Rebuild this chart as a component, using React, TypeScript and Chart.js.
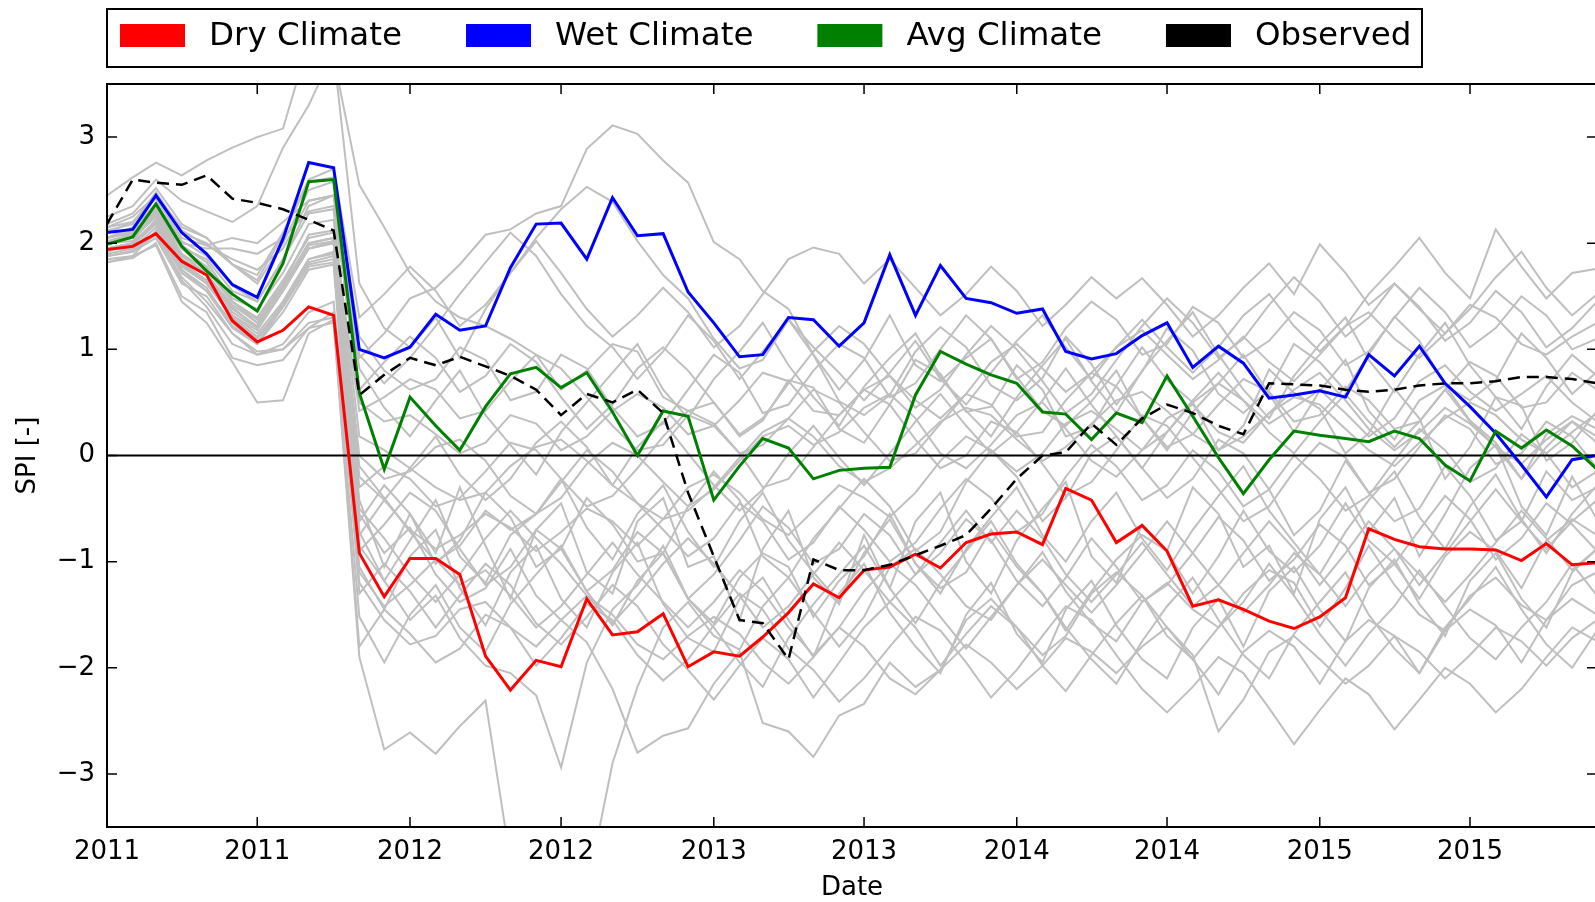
import React, { useEffect, useRef } from "react";
import { Chart, registerables } from "chart.js";

Chart.register(...registerables);

const FONT = "'DejaVu Sans', sans-serif";

// ---------- categories / ticks ----------
const startYear = 2011;
const monthCount = 60; // Jan 2011 .. Dec 2015 (monthly)
const tickDates = [
  "2011-01-01", "2011-07-01", "2012-01-01", "2012-07-01", "2013-01-01",
  "2013-07-01", "2014-01-01", "2014-07-01", "2015-01-01", "2015-07-01",
];
const tickLabels = ["2011", "2011", "2012", "2012", "2013", "2013", "2014", "2014", "2015", "2015"];
const yTicks = [-3, -2, -1, 0, 1, 2, 3];
const xTitle = "Date";
const yTitle = "SPI [-]";

// ---------- highlighted series ----------
const dryClimate = [
  1.94, 1.97, 2.09, 1.83, 1.70, 1.27, 1.07, 1.18, 1.40, 1.32,
  -0.92, -1.33, -0.97, -0.97, -1.12, -1.89, -2.21, -1.93, -1.99, -1.35,
  -1.69, -1.66, -1.49, -1.99, -1.85, -1.89, -1.71, -1.48, -1.21, -1.34,
  -1.08, -1.05, -0.93, -1.06, -0.82, -0.74, -0.72, -0.84, -0.31, -0.42,
  -0.82, -0.66, -0.90, -1.42, -1.36, -1.45, -1.56, -1.63, -1.52, -1.34,
  -0.69, -0.79, -0.86, -0.88, -0.88, -0.89, -0.99, -0.83, -1.03, -1.01,
];
const wetClimate = [
  2.10, 2.13, 2.45, 2.10, 1.90, 1.61, 1.49, 2.04, 2.76, 2.71,
  1.00, 0.92, 1.02, 1.33, 1.18, 1.22, 1.77, 2.18, 2.19, 1.85,
  2.43, 2.07, 2.09, 1.54, 1.25, 0.93, 0.95, 1.30, 1.28, 1.03,
  1.25, 1.89, 1.32, 1.79, 1.48, 1.44, 1.34, 1.38, 0.98, 0.91,
  0.96, 1.13, 1.25, 0.83, 1.03, 0.87, 0.54, 0.57, 0.61, 0.55,
  0.95, 0.75, 1.03, 0.68, 0.46, 0.21, -0.09, -0.39, -0.04, 0.00,
];
const avgClimate = [
  1.99, 2.06, 2.37, 1.97, 1.74, 1.52, 1.36, 1.81, 2.58, 2.60,
  0.59, -0.13, 0.55, 0.28, 0.05, 0.46, 0.77, 0.83, 0.64, 0.78,
  0.41, 0.00, 0.42, 0.37, -0.42, -0.10, 0.16, 0.07, -0.22, -0.14,
  -0.12, -0.11, 0.57, 0.98, 0.86, 0.76, 0.68, 0.41, 0.39, 0.15,
  0.40, 0.31, 0.75, 0.37, -0.02, -0.36, -0.04, 0.23, 0.19, 0.16,
  0.13, 0.23, 0.16, -0.09, -0.24, 0.23, 0.07, 0.24, 0.09, -0.13,
];
const observed = [
  2.18, 2.60, 2.57, 2.55, 2.64, 2.42, 2.38, 2.32, 2.22, 2.12,
  0.57, 0.76, 0.92, 0.85, 0.93, 0.84, 0.75, 0.62, 0.38, 0.58,
  0.50, 0.62, 0.40, -0.35, -0.95, -1.55, -1.58, -1.92, -0.98, -1.08,
  -1.08, -1.03, -0.94, -0.85, -0.75, -0.50, -0.22, 0.00, 0.03, 0.30,
  0.10, 0.35, 0.48, 0.40, 0.28, 0.20, 0.68, 0.67, 0.66, 0.62,
  0.60, 0.62, 0.66, 0.68, 0.68, 0.70, 0.74, 0.74, 0.72, 0.68,
];

// ---------- ensemble members (grey) ----------
const member01 = [2.45,2.62,2.76,2.64,2.78,2.90,3.00,3.08,3.90,3.75, 2.55,2.15,1.72,1.45,1.30,1.22,1.10,0.95,0.62,0.80, 1.05,0.98,0.55,0.42,0.50,0.18,0.33,0.71,0.64,0.25, 0.12,0.48,0.90,0.77,0.41,0.46,0.85,0.62,0.18,0.27, 0.66,1.02,0.71,0.50,0.05,0.28,0.81,0.59,0.44,0.02, 0.21,0.63,0.35,-0.22,0.08,0.55,0.47,-0.05,0.12,0.42];
const member02 = [2.25,2.35,2.60,2.40,2.30,2.20,2.35,2.90,3.30,3.80, 1.62,1.20,1.02,1.30,0.92,1.38,1.72,2.05,2.32,2.53, 2.39,2.02,1.70,1.48,1.10,0.82,0.90,1.28,0.95,0.51, 0.38,0.57,0.98,1.21,1.02,0.66,0.52,0.73,1.12,0.86, 0.48,0.79,1.20,0.99,0.58,0.40,0.62,1.05,0.88,0.61, 0.95,1.31,1.08,0.66,0.52,0.71,1.15,0.92,0.58,0.79];
const member03 = [2.15,2.20,2.45,2.10,2.00,1.80,1.62,2.00,2.50,2.58, 0.92,1.15,1.48,1.58,1.80,2.08,2.13,2.28,2.35,2.89, 3.11,3.03,2.78,2.57,2.01,1.85,1.55,1.38,0.95,0.62, 0.90,1.32,0.85,0.70,0.92,1.10,0.74,0.42,0.28,0.51, 0.80,0.35,0.05,0.41,0.68,0.95,0.58,0.22,0.61,0.90, 0.42,0.15,0.52,0.66,0.33,0.12,-0.22,0.20,0.37,0.25];
const member04 = [1.88,1.92,2.05,1.62,1.50,1.15,0.95,1.00,1.20,1.25, -1.90,-2.77,-2.61,-2.81,-2.55,-2.31,-3.82,-4.50,-4.30,-4.10, -2.90,-2.18,-1.62,-1.38,-1.70,-1.83,-1.42,-1.15,-1.48,-1.80, -1.52,-1.05,-0.88,-1.12,-1.42,-1.55,-1.22,-0.91,-1.28,-1.58, -1.75,-1.38,-1.20,-1.45,-1.62,-1.30,-1.08,-1.20,-1.61,-1.25, -0.85,-1.22,-1.50,-1.65,-1.32,-1.15,-1.41,-1.55,-1.22,-1.10];
const member05 = [1.82,1.88,2.12,1.72,1.55,1.20,1.05,1.40,1.78,1.82, -0.85,-1.18,-1.55,-1.32,-1.72,-1.98,-2.05,-2.26,-2.94,-1.95, -1.45,-1.22,-0.85,-1.35,-1.58,-1.15,-0.92,-1.05,-1.52,-1.18, -0.95,-0.55,-1.02,-1.25,-1.10,-0.70,-1.05,-1.30,-1.65,-1.28, -0.98,-0.75,-0.90,-1.30,-0.95,-0.52,-0.90,-1.10,-0.85,-0.45, -0.80,-1.02,-1.35,-0.95,-0.72,-0.90,-1.25,-0.80,-0.60,-0.75];
const member06 = [1.92,2.00,2.22,1.82,1.65,1.32,1.18,1.55,1.95,2.02, -0.55,-0.92,-0.68,-1.12,-1.38,-1.25,-0.88,-1.32,-1.55,-1.76, -2.20,-2.80,-2.64,-2.57,-2.15,-1.85,-2.52,-2.60,-2.84,-2.45, -2.34,-1.95,-2.18,-2.02,-1.55,-1.35,-1.62,-1.88,-1.70,-1.30, -1.10,-1.32,-1.70,-1.92,-2.25,-1.85,-1.65,-1.80,-2.15,-1.75, -1.55,-1.70,-2.05,-1.65,-1.45,-1.60,-1.95,-1.55,-1.35,-1.50];
const member07 = [2.02,2.08,2.32,1.98,1.82,1.48,1.38,1.72,2.18,2.22, 0.18,0.05,-0.12,-0.30,-0.42,-0.35,-0.10,0.08,0.15,-0.05, -0.28,-0.45,-0.60,-0.52,-0.30,-0.02,0.22,0.35,0.18,-0.10, -0.25,-0.12,0.10,0.32,0.45,0.38,0.15,-0.05,0.08,0.30, 0.52,0.60,0.42,0.20,0.05,0.18,0.40,0.55,0.48,0.25, 0.05,-0.10,0.12,0.35,0.50,0.38,0.15,0.02,0.22,0.40];
const member08 = [1.95,1.98,2.18,1.75,1.58,1.22,1.05,1.45,1.85,1.92, -0.42,-1.05,-0.55,-0.92,-0.30,-0.85,-1.35,-0.70,-0.45,-1.10, -1.30,-0.62,-0.40,-1.05,-0.95,-1.55,-0.88,-0.52,-1.15,-1.40, -0.75,-1.25,-0.62,-0.35,-1.00,-1.30,-0.80,-0.50,-0.25,-0.95, -1.20,-0.65,-0.90,-0.30,-0.55,-1.05,-0.85,-1.30,-0.60,-0.30, -0.72,-0.40,-0.95,-0.55,-0.12,0.10,-0.48,-0.75,-0.20,-0.60];
const member09 = [2.05,2.12,2.38,2.02,1.88,1.60,1.45,1.85,2.28,2.32, -0.20,-0.42,-0.70,-0.88,-0.75,-0.55,-0.68,-0.90,-0.72,-0.50, -0.62,-0.85,-0.60,-0.30,-0.18,-0.35,-0.60,-0.75,-0.52,-0.28, -0.40,-0.58,-0.35,-0.05,0.18,0.05,-0.15,0.02,0.30,0.42, 0.25,0.05,0.22,0.50,0.68,0.52,0.30,0.45,0.62,0.40, 0.18,0.35,0.70,0.85,0.60,0.42,0.58,0.75,0.50,0.32];
const member10 = [1.88,1.92,2.10,1.65,1.40,1.05,0.95,1.05,1.35,1.45, -1.05,-1.45,-0.95,-0.70,-1.25,-1.60,-1.10,-0.85,-1.35,-1.62, -1.10,-0.82,-1.40,-1.72,-1.85,-1.35,-1.15,-1.55,-1.90,-1.30, -1.02,-1.48,-1.80,-2.05,-1.50,-1.20,-1.68,-1.95,-1.45,-1.18, -1.60,-1.92,-2.10,-1.62,-1.35,-1.80,-1.28,-1.05,-1.45,-1.75, -1.25,-0.98,-1.40,-1.70,-1.18,-0.92,-1.35,-1.62,-1.10,-0.88];
const member11 = [2.12,2.18,2.48,2.12,1.98,1.85,1.75,1.95,2.40,2.45, 0.50,0.32,0.38,0.20,0.02,0.12,0.38,0.30,0.05,0.18, 0.42,0.58,0.45,0.20,0.28,0.52,0.78,0.70,0.42,0.38, 0.62,0.75,0.52,0.35,0.58,0.88,1.05,0.82,0.60,0.78, 1.02,1.18,0.95,0.72,0.90,1.12,0.88,0.70,0.95,1.22, 1.35,1.10,0.92,1.15,1.42,1.30,1.05,0.95,1.12,1.25];
const member12 = [2.00,2.02,2.28,1.88,1.72,1.38,1.22,1.58,1.98,2.02, -0.62,-0.28,-0.55,-1.02,-0.80,-0.35,-0.58,-1.05,-0.88,-0.40, -0.65,-1.00,-0.92,-0.48,-0.15,-0.42,-0.95,-1.15,-0.78,-0.50, -0.22,-0.48,-0.90,-0.72,-0.25,0.05,-0.20,-0.62,-0.40,0.02, 0.18,-0.12,-0.40,-0.22,0.15,0.02,-0.32,-0.75,-0.52,-0.05, -0.35,-0.62,-0.50,-0.10,-0.38,-0.80,-0.62,-0.15,-0.42,-0.30];
const member13 = [1.82,1.86,2.00,1.50,1.35,0.92,0.85,0.90,1.20,1.35, -1.20,-1.55,-1.78,-1.70,-1.45,-1.38,-1.62,-1.80,-1.55,-1.32, -1.50,-1.78,-1.92,-1.70,-1.52,-1.68,-1.95,-2.15,-1.90,-1.62, -1.80,-2.10,-2.25,-2.02,-1.78,-1.95,-2.20,-1.98,-1.72,-1.85, -2.05,-1.80,-1.62,-1.88,-2.60,-2.30,-1.85,-1.70,-1.92,-2.15, -1.98,-1.70,-1.85,-2.10,-1.88,-1.62,-1.75,-1.98,-1.72,-1.55];
const member14 = [2.18,2.28,2.52,2.18,2.05,1.80,1.65,2.08,2.58,2.62, 1.12,0.80,0.62,0.72,1.02,0.90,0.52,0.60,0.95,0.82, 0.45,0.18,0.30,0.62,0.95,0.78,0.40,0.48,0.80,1.05, 0.92,0.55,0.68,1.00,1.32,1.10,0.72,0.88,1.20,1.45, 1.28,0.95,1.05,1.40,1.25,0.92,1.08,1.35,1.18,0.85, 0.98,1.30,1.58,1.35,1.02,1.20,1.50,1.32,1.00,1.10];
const member15 = [1.95,2.00,2.20,1.80,1.62,1.30,1.12,1.42,1.82,1.88, -0.72,-1.18,-0.80,-0.42,-0.95,-1.20,-0.75,-0.55,-0.22,-0.68, -0.98,-0.55,-0.28,-0.72,-1.05,-0.62,-0.35,-0.80,-1.10,-1.38, -0.92,-0.60,-1.02,-1.30,-0.88,-0.58,-0.30,-0.75,-1.00,-0.62, -0.35,-0.78,-1.08,-0.70,-0.38,-0.10,-0.52,-0.82,-1.12,-0.72, -0.42,-0.15,-0.58,-0.88,-0.48,-0.18,-0.60,-0.92,-0.55,-0.28];
const member16 = [2.05,2.10,2.32,1.95,1.78,1.45,1.28,1.62,2.08,2.12, 0.00,-0.22,-0.15,0.08,0.15,-0.05,-0.38,-0.55,-0.40,-0.08, 0.12,0.00,-0.25,-0.48,-0.32,-0.05,0.18,0.28,0.10,0.22, 0.45,0.58,0.35,0.02,-0.12,0.10,0.38,0.50,0.25,-0.05, -0.20,0.05,0.35,0.48,0.22,0.12,0.40,0.62,0.78,0.52, 0.25,0.05,0.22,0.45,0.30,0.08,-0.08,0.15,0.32,0.18];
const member17 = [1.88,1.93,2.08,1.68,1.45,1.15,0.98,1.00,1.25,1.30, -1.52,-1.95,-1.50,-1.22,-1.62,-1.85,-1.40,-1.12,-0.85,-1.28, -1.60,-1.18,-0.92,-1.35,-1.62,-1.95,-2.18,-1.72,-1.40,-1.12, -0.85,-1.25,-1.58,-1.20,-0.90,-0.62,-1.02,-1.30,-1.62,-1.92, -2.15,-1.75,-1.42,-1.15,-1.55,-1.88,-2.10,-1.68,-1.38,-1.10, -1.50,-1.82,-2.05,-1.62,-1.35,-1.05,-1.45,-1.78,-2.00,-1.65];
const member18 = [2.00,2.05,2.30,1.90,1.75,1.45,1.30,1.65,2.05,2.10, 0.42,0.55,0.72,0.62,0.35,0.42,0.70,0.95,0.82,0.55, 0.28,0.05,0.10,0.38,0.28,0.02,0.10,0.35,0.62,0.50, 0.22,-0.05,0.02,0.30,0.58,0.48,0.18,0.22,0.52,0.78, 0.65,0.35,0.08,0.20,0.48,0.72,0.60,0.32,0.38,0.65, 0.52,0.25,0.32,0.62,0.88,0.75,0.45,0.50,0.78,0.62];
const member19 = [1.95,1.95,2.15,1.78,1.62,1.32,1.15,1.45,1.85,1.90, -0.90,-0.65,-0.35,-0.52,-0.88,-1.22,-1.05,-0.70,-0.88,-1.28, -1.08,-0.72,-0.92,-1.35,-1.12,-0.80,-0.48,-0.68,-1.02,-0.88, -0.55,-0.75,-1.12,-0.92,-0.60,-0.80,-1.18,-1.42,-1.15,-0.78, -1.05,-1.38,-1.22,-0.92,-0.58,-0.80,-1.18,-0.98,-0.65,-0.85, -1.22,-1.02,-0.70,-0.38,-0.60,-0.98,-0.78,-0.45,-0.65,-0.90];
const member20 = [2.10,2.20,2.42,2.05,1.98,2.05,2.00,2.20,2.40,2.45, 0.82,0.45,0.18,0.52,0.80,0.38,0.10,-0.18,0.22,0.50, 0.78,1.05,0.62,0.35,0.72,0.98,1.25,0.85,0.55,0.28, 0.65,0.92,1.15,0.75,0.42,0.18,0.55,0.85,1.10,0.70, 0.40,0.80,1.08,1.35,0.95,0.62,0.35,0.75,1.05,1.30, 0.90,0.60,0.95,1.25,0.85,0.55,0.25,0.65,0.95,0.75];
const member21 = [1.85,1.88,1.98,1.45,1.25,0.88,0.50,0.52,1.15,1.28, -1.80,-1.45,-1.68,-1.95,-1.82,-1.50,-1.62,-1.98,-1.72,-1.40, -1.55,-1.88,-2.12,-1.92,-1.60,-1.30,-1.45,-1.82,-2.02,-2.32, -2.10,-1.80,-1.52,-1.65,-1.95,-2.28,-2.02,-1.70,-1.42,-1.55, -1.88,-2.20,-2.42,-2.18,-1.90,-2.05,-2.38,-2.72,-2.40,-2.10, -2.25,-2.58,-2.30,-2.00,-2.15,-2.42,-2.20,-1.90,-1.62,-1.75];
const member22 = [2.00,2.05,2.25,1.90,1.70,1.40,1.20,1.55,1.95,2.00, -0.30,-0.10,-0.22,-0.48,-0.40,-0.15,0.12,0.05,-0.22,-0.48, -0.38,-0.12,0.18,0.42,0.30,0.02,-0.30,-0.22,0.08,0.38, 0.62,0.48,0.15,-0.12,0.00,0.32,0.22,-0.08,-0.38,-0.25, 0.05,0.38,0.28,-0.02,-0.32,-0.62,-0.48,-0.15,0.12,-0.02, -0.35,-0.22,0.08,0.38,0.25,-0.08,0.02,0.32,0.18,-0.12];
const member23 = [1.95,2.00,2.20,1.85,1.70,1.42,1.25,1.60,2.00,2.05, -0.10,-0.40,-0.72,-1.00,-0.85,-0.52,-0.70,-0.55,-0.25,0.05, -0.15,-0.45,-0.70,-0.95,-0.78,-0.45,-0.62,-0.98,-0.82,-0.48, -0.70,-1.00,-0.82,-0.50,-0.22,-0.40,-0.72,-0.55,-0.20,0.10, -0.10,-0.42,-0.28,0.05,-0.15,-0.48,-0.32,0.00,-0.22,-0.52, -0.38,-0.05,0.25,0.05,-0.25,-0.12,0.20,0.02,-0.30,-0.15];
const member24 = [2.05,2.15,2.35,2.00,1.95,1.95,1.90,2.05,2.30,2.35, 0.62,0.88,1.12,0.92,0.60,0.75,1.05,0.88,0.55,0.25, 0.48,0.82,1.02,0.80,0.50,0.20,0.35,0.68,0.98,1.22, 1.05,0.75,0.45,0.62,0.95,1.22,1.00,0.70,0.40,0.58, 0.90,1.22,1.48,1.25,0.92,1.10,1.42,1.68,1.45,1.12, 1.30,1.62,1.40,1.08,1.25,1.55,1.35,1.02,1.20,1.45];
const member25 = [2.15,2.25,2.45,2.15,2.05,1.80,1.70,2.10,2.60,2.70, 1.30,1.52,1.78,1.55,1.22,1.42,1.72,2.02,1.72,1.38, 1.12,1.32,1.58,1.35,1.02,1.22,1.52,1.85,1.96,1.90, 1.62,1.85,1.58,1.32,1.52,1.78,1.55,1.22,1.42,1.68, 1.48,1.67,1.42,1.12,1.32,1.58,1.81,1.52,1.99,1.72, 1.42,1.62,1.38,1.15,1.38,1.68,1.92,1.58,1.32,1.52];
const member26 = [2.05,2.10,2.30,1.95,1.85,1.55,1.45,1.85,2.35,2.45, 0.95,0.68,0.92,1.22,1.52,1.82,2.10,1.88,1.52,1.22, 1.02,0.72,0.98,1.32,1.08,0.72,0.98,1.28,1.02,0.78, 0.52,0.78,1.08,0.72,0.48,0.78,1.08,1.32,1.02,0.72, 1.02,1.28,1.02,0.78,1.02,1.32,1.52,1.22,0.98,1.22, 1.52,1.78,2.05,1.72,1.48,2.13,1.78,1.48,1.72,1.76];
const member27 = [1.90,1.95,2.10,1.75,1.55,1.25,1.05,1.35,1.75,1.80, -1.30,-1.02,-1.28,-1.62,-1.32,-1.02,-1.22,-1.58,-1.78,-1.52, -1.22,-1.42,-1.78,-2.02,-2.30,-1.98,-1.72,-1.92,-2.28,-1.95, -1.62,-1.38,-1.62,-1.98,-1.68,-1.42,-1.62,-1.98,-2.22,-1.88, -1.58,-1.32,-1.62,-1.92,-1.62,-1.38,-1.02,-1.32,-1.68,-1.98, -1.68,-1.42,-1.08,-1.42,-1.72,-1.92,-1.62,-1.38,-1.02,-1.32];
const member28 = [2.00,2.05,2.25,1.85,1.70,1.35,1.20,1.55,1.95,2.00, -0.75,-0.42,-0.12,0.18,-0.18,-0.42,-0.22,0.12,0.32,0.08, -0.28,0.08,0.32,0.02,-0.28,-0.52,-0.32,0.02,0.28,-0.02, -0.28,0.02,0.32,0.58,0.28,0.02,0.22,0.52,0.82,0.48, 0.18,-0.12,0.22,0.52,0.78,0.52,0.22,0.02,0.32,0.58, 0.32,0.08,0.32,0.62,0.32,0.08,-0.22,0.08,0.32,0.12];
const member29 = [1.95,2.00,2.20,1.80,1.65,1.30,1.10,1.40,1.80,1.85, -1.10,-1.42,-1.22,-0.98,-1.22,-1.08,-1.32,-1.62,-1.42,-1.12, -0.82,-1.12,-1.38,-1.62,-1.38,-1.08,-1.28,-1.62,-1.88,-1.62, -1.28,-1.02,-1.22,-1.52,-1.82,-1.52,-1.22,-0.98,-1.22,-1.48, -1.22,-0.92,-0.62,-0.92,-1.22,-1.48,-1.22,-0.92,-1.12,-1.42, -1.12,-0.88,-1.12,-1.38,-1.12,-0.82,-0.52,-0.78,-1.08,-0.88];
const member30 = [2.00,2.10,2.30,1.95,1.75,1.45,1.25,1.60,2.00,2.05, -0.50,-0.78,-1.12,-1.38,-1.12,-0.78,-0.52,-0.78,-1.02,-1.32, -1.58,-1.32,-1.02,-0.78,-1.02,-1.32,-1.62,-1.42,-1.12,-0.82, -1.08,-1.38,-1.12,-0.82,-0.52,-0.82,-0.52,-0.78,-1.12,-1.38, -1.12,-0.82,-1.12,-1.42,-1.22,-0.92,-0.62,-0.88,-1.22,-0.92, -0.62,-0.88,-1.22,-0.92,-0.62,-0.32,-0.62,-0.88,-0.62,-0.42];

const ensemble = [
  member01, member02, member03, member04, member05, member06, member07, member08, member09, member10,
  member11, member12, member13, member14, member15, member16, member17, member18, member19, member20,
  member21, member22, member23, member24, member25, member26, member27, member28, member29, member30,
];

const highlighted = [
  { label: "Dry Climate", data: dryClimate, color: "#ff0000", dash: [] as number[], order: 3 },
  { label: "Wet Climate", data: wetClimate, color: "#0000ff", dash: [] as number[], order: 2 },
  { label: "Avg Climate", data: avgClimate, color: "#008000", dash: [] as number[], order: 1 },
  { label: "Observed", data: observed, color: "#000000", dash: [12, 7], order: 0 },
];

// ---------- helpers ----------
const DAY = 86400000;
const origin = Date.UTC(startYear, 0, 1);
const dayOf = (y: number, m: number, d: number) => (Date.UTC(y, m, d) - origin) / DAY;
const dayOfStr = (s: string) => {
  const [y, m, d] = s.split("-").map(Number);
  return dayOf(y, m - 1, d);
};
const monthX: number[] = [];
for (let i = 0; i < monthCount; i++) {
  monthX.push(dayOf(startYear + Math.floor(i / 12), i % 12, 1));
}
const tickX = tickDates.map(dayOfStr);
const toPoints = (arr: number[]) => arr.map((v, i) => ({ x: monthX[i], y: v }));
const fmtY = (v: number) => (v < 0 ? "\u2212" + Math.abs(v) : String(v));

const decorPlugin = {
  id: "decor",
  afterDatasetsDraw(chart: any) {
    const { ctx, chartArea: a, scales } = chart;
    const xs = scales.x;
    const ys = scales.y;
    const tl = 10;
    ctx.save();
    ctx.strokeStyle = "#000";
    ctx.lineWidth = 1.5;
    ctx.beginPath();
    xs.ticks.forEach((t: any) => {
      const px = xs.getPixelForValue(t.value);
      ctx.moveTo(px, a.bottom);
      ctx.lineTo(px, a.bottom - tl);
      ctx.moveTo(px, a.top);
      ctx.lineTo(px, a.top + tl);
    });
    ys.ticks.forEach((t: any) => {
      const py = ys.getPixelForValue(t.value);
      ctx.moveTo(a.left, py);
      ctx.lineTo(a.left + tl, py);
      ctx.moveTo(a.right, py);
      ctx.lineTo(a.right - tl, py);
    });
    ctx.stroke();
    ctx.lineWidth = 2;
    ctx.strokeRect(a.left, a.top, a.right - a.left, a.bottom - a.top);
    ctx.restore();
  },
  afterDraw(chart: any) {
    const { ctx } = chart;
    ctx.save();
    // legend frame
    ctx.fillStyle = "#fff";
    ctx.fillRect(107, 9, 1315, 58);
    ctx.strokeStyle = "#000";
    ctx.lineWidth = 2;
    ctx.strokeRect(107, 9, 1315, 58);
    ctx.font = `32.5px ${FONT}`;
    ctx.textBaseline = "middle";
    ctx.textAlign = "left";
    let x = 120;
    highlighted.forEach((h) => {
      ctx.fillStyle = h.color;
      ctx.fillRect(x, 24, 65, 23);
      const tx = x + 65 + 24;
      ctx.fillStyle = "#000";
      ctx.fillText(h.label, tx, 37);
      x = tx + ctx.measureText(h.label).width + 64;
    });
    ctx.restore();
  },
};

export default function App() {
  const ref = useRef<HTMLCanvasElement>(null);
  useEffect(() => {
    const canvas = ref.current;
    if (!canvas) return;
    const datasets: any[] = [];
    highlighted.forEach((h) => {
      datasets.push({
        label: h.label,
        data: toPoints(h.data),
        borderColor: h.color,
        backgroundColor: h.color,
        borderWidth: h.dash.length ? 2.5 : 3,
        borderDash: h.dash,
        pointRadius: 0,
        tension: 0,
        fill: false,
        order: h.order,
        clip: 0,
      });
    });
    datasets.push({
      label: "zero",
      data: [
        { x: 0, y: 0 },
        { x: monthX[monthCount - 1], y: 0 },
      ],
      borderColor: "#000",
      borderWidth: 2,
      pointRadius: 0,
      order: 5,
      clip: 0,
    });
    ensemble.forEach((m, k) => {
      datasets.push({
        label: "member " + (k + 1),
        data: toPoints(m),
        borderColor: "#bfbfbf",
        borderWidth: 2,
        pointRadius: 0,
        tension: 0,
        fill: false,
        order: 10,
        clip: 0,
      });
    });

    const chart = new Chart(canvas, {
      type: "line",
      data: { datasets },
      plugins: [decorPlugin],
      options: {
        animation: false,
        responsive: false,
        devicePixelRatio: 1,
        layout: { padding: { top: 84, right: 3, bottom: 0, left: 0 } },
        plugins: { legend: { display: false }, tooltip: { enabled: false } },
        scales: {
          x: {
            type: "linear",
            min: 0,
            max: monthX[monthCount - 1],
            grid: { display: false, drawTicks: false },
            border: { display: false },
            afterBuildTicks: (scale: any) => {
              scale.ticks = tickX.map((v) => ({ value: v }));
            },
            afterFit: (scale: any) => {
              scale.height = 75;
            },
            ticks: {
              autoSkip: false,
              maxRotation: 0,
              padding: 10,
              color: "#000",
              font: { family: FONT, size: 26 },
              callback: (_v: any, i: number) => tickLabels[i],
            },
            title: {
              display: true,
              text: xTitle,
              color: "#000",
              font: { family: FONT, size: 26, lineHeight: 1.08 },
              padding: { top: 0, bottom: 0 },
            },
          },
          y: {
            type: "linear",
            min: -3.5,
            max: 3.5,
            grid: { display: false, drawTicks: false },
            border: { display: false },
            afterBuildTicks: (scale: any) => {
              scale.ticks = yTicks.map((v) => ({ value: v }));
            },
            afterFit: (scale: any) => {
              scale.width = 107;
            },
            ticks: {
              padding: 12,
              color: "#000",
              font: { family: FONT, size: 26 },
              callback: (v: any) => fmtY(Number(v)),
            },
            title: {
              display: true,
              text: yTitle,
              color: "#000",
              font: { family: FONT, size: 26 },
              padding: { top: 13, bottom: 0 },
            },
          },
        },
      },
    } as any);
    return () => chart.destroy();
  }, []);

  return (
    <div
      style={{
        position: "fixed",
        left: 0,
        top: 0,
        width: 1595,
        height: 902,
        overflow: "hidden",
        background: "#ffffff",
      }}
    >
      <canvas ref={ref} width={1600} height={902} style={{ display: "block" }} />
    </div>
  );
}
